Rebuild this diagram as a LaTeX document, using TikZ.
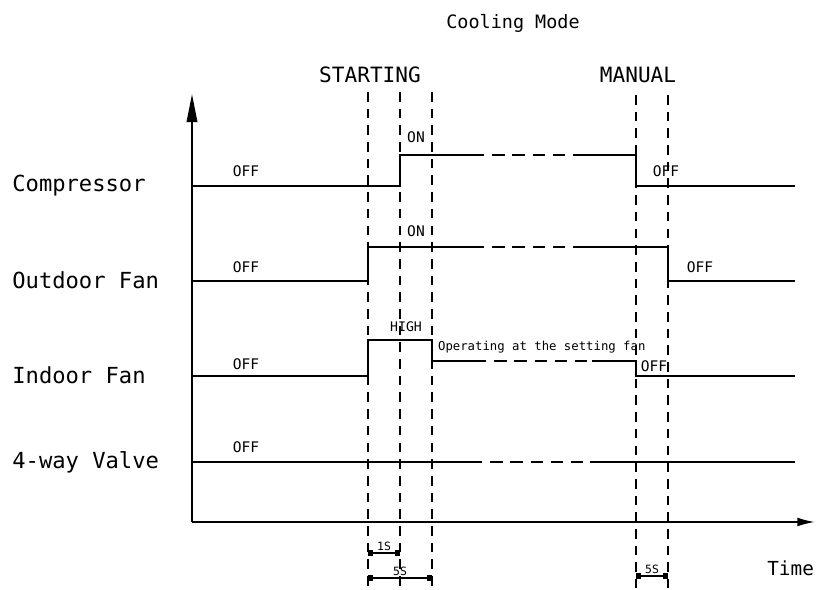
\documentclass[tikz,border=0pt]{standalone}
\usepackage{fontspec}
\setmainfont{DejaVu Sans Mono}
\usetikzlibrary{arrows.meta,positioning}

\begin{document}
\begin{tikzpicture}[x=0.02cm,y=-0.02cm,
  sig/.style={line width=1.1pt,line join=miter},
  sigdash/.style={line width=1.1pt,dash pattern=on 7pt off 4.5pt},
  guide/.style={line width=0.8pt,dash pattern=on 5.5pt off 4pt},
  dim/.style={line width=0.8pt,{Square[length=3pt,width=3pt]}-{Square[length=3pt,width=3pt]}},
  rowlbl/.style={anchor=west,inner sep=0pt,font=\fontsize{12.6}{14}\selectfont},
  head/.style={font=\fontsize{12}{14}\selectfont},
  state/.style={inner sep=1pt,font=\fontsize{8.3}{10}\selectfont},
  tiny/.style={inner sep=1pt,font=\fontsize{6.5}{7}\selectfont}]
  \useasboundingbox (0,0) rectangle (817,590);
  % axes
  \coordinate (O) at (192,522);
  \coordinate (ytop) at (192,94);
  \coordinate (xend) at (815,522);
  \draw[line width=1.1pt,-{Triangle[length=16pt,width=6pt]}] (O) -- (ytop);
  \draw[line width=1.1pt,-{Latex[length=10pt,width=5pt]}] (O) -- (xend);
  % titles
  \node[font=\fontsize{10.5}{12}\selectfont] (title) at (513,23) {Cooling Mode};
  \node[head] (start) at (370,75) {STARTING};
  \node[head] (manual) at (638,75) {MANUAL};
  % guide lines
  \foreach \gx/\gt in {368/92,400/92,432/92,636/95,668/95}
    \draw[guide] (\gx,\gt) -- (\gx,588);
  % row names
  \node[rowlbl] (comp) at (12,186) {Compressor};
  \node[rowlbl] (outfan) at (12,280) {Outdoor Fan};
  \node[rowlbl] (infan) at (12,375) {Indoor Fan};
  \node[rowlbl] (valve) at (12,462) {4-way Valve};
  % compressor
  \draw[sig] (192,186) -- (400,186) -- (400,155) -- (472,155);
  \draw[sigdash] (472,155) -- (575,155);
  \draw[sig] (575,155) -- (636,155) -- (636,186) -- (795,186);
  % outdoor fan
  \draw[sig] (192,281) -- (368,281) -- (368,247) -- (472,247);
  \draw[sigdash] (472,247) -- (578,247);
  \draw[sig] (578,247) -- (668,247) -- (668,281) -- (795,281);
  % indoor fan
  \draw[sig] (192,376) -- (368,376) -- (368,340) -- (432,340) -- (432,361) -- (474,361);
  \draw[sigdash] (474,361) -- (592,361);
  \draw[sig] (592,361) -- (636,361) -- (636,376) -- (795,376);
  % 4-way valve
  \draw[sig] (192,462) -- (470,462);
  \draw[sigdash] (470,462) -- (590,462);
  \draw[sig] (590,462) -- (795,462);
  % states
  \node[state] (off1) at (246,171) {OFF};
  \node[state] (off2) at (246,267) {OFF};
  \node[state] (off3) at (246,364) {OFF};
  \node[state] (off4) at (246,447) {OFF};
  \node[state] (on1) at (416,137) {ON};
  \node[state] (on2) at (416,231) {ON};
  \node[tiny,font=\fontsize{7.5}{9}\selectfont] (high) at (406,327) {HIGH};
  \node[tiny,font=\fontsize{7}{8}\selectfont,anchor=west] (oper) at (436,347) {Operating at the setting fan};
  \node[state] (off5) at (666,171) {OFF};
  \node[state] (off6) at (700,267) {OFF};
  \node[state] (off7) at (654,366) {OFF};
  % timing
  \draw[dim] (368,553) -- node[tiny,above] (t1) {1S} (400,553);
  \draw[dim] (368,578) -- node[tiny,above] (t2) {5S} (432,578);
  \draw[dim] (636,576) -- node[tiny,above] (t3) {5S} (668,576);
  \node[anchor=east,inner sep=1pt,font=\fontsize{11}{13}\selectfont] (time) at (816,568) {Time};
\end{tikzpicture}
\end{document}
